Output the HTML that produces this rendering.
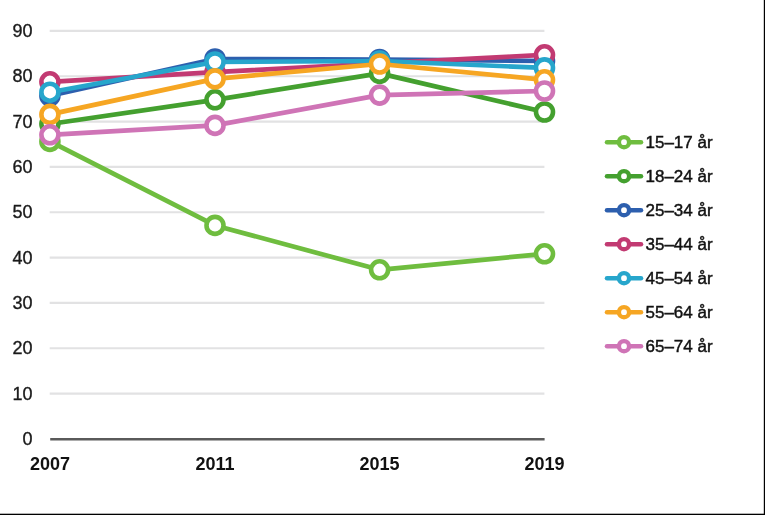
<!DOCTYPE html>
<html><head><meta charset="utf-8"><style>
html,body{margin:0;padding:0;background:#fff;}
body{width:765px;height:515px;overflow:hidden;position:relative;}
svg{display:block;position:absolute;left:0;top:0;}
#c{filter:blur(0.3px);}
.br{position:absolute;background:#000;}
text{font-family:"Liberation Sans",sans-serif;}
</style></head><body>
<svg id="c" width="765" height="515" viewBox="0 0 765 515">
<rect x="0" y="0" width="765" height="515" fill="#fff"/>

<line x1="49.7" y1="393.57" x2="544.4" y2="393.57" stroke="#e2e2e3" stroke-width="2.2"/>
<line x1="49.7" y1="348.23" x2="544.4" y2="348.23" stroke="#e2e2e3" stroke-width="2.2"/>
<line x1="49.7" y1="302.90" x2="544.4" y2="302.90" stroke="#e2e2e3" stroke-width="2.2"/>
<line x1="49.7" y1="257.57" x2="544.4" y2="257.57" stroke="#e2e2e3" stroke-width="2.2"/>
<line x1="49.7" y1="212.23" x2="544.4" y2="212.23" stroke="#e2e2e3" stroke-width="2.2"/>
<line x1="49.7" y1="166.90" x2="544.4" y2="166.90" stroke="#e2e2e3" stroke-width="2.2"/>
<line x1="49.7" y1="121.57" x2="544.4" y2="121.57" stroke="#e2e2e3" stroke-width="2.2"/>
<line x1="49.7" y1="76.24" x2="544.4" y2="76.24" stroke="#e2e2e3" stroke-width="2.2"/>
<line x1="49.7" y1="30.90" x2="544.4" y2="30.90" stroke="#e2e2e3" stroke-width="2.2"/>
<line x1="50.2" y1="439.2" x2="544.6" y2="439.2" stroke="#5a5a5a" stroke-width="2.6"/>
<text x="32.6" y="445.10" font-size="18" text-anchor="end" fill="#1a1a1a" stroke="#1a1a1a" stroke-width="0.35">0</text>
<text x="32.6" y="399.77" font-size="18" text-anchor="end" fill="#1a1a1a" stroke="#1a1a1a" stroke-width="0.35">10</text>
<text x="32.6" y="354.43" font-size="18" text-anchor="end" fill="#1a1a1a" stroke="#1a1a1a" stroke-width="0.35">20</text>
<text x="32.6" y="309.10" font-size="18" text-anchor="end" fill="#1a1a1a" stroke="#1a1a1a" stroke-width="0.35">30</text>
<text x="32.6" y="263.77" font-size="18" text-anchor="end" fill="#1a1a1a" stroke="#1a1a1a" stroke-width="0.35">40</text>
<text x="32.6" y="218.43" font-size="18" text-anchor="end" fill="#1a1a1a" stroke="#1a1a1a" stroke-width="0.35">50</text>
<text x="32.6" y="173.10" font-size="18" text-anchor="end" fill="#1a1a1a" stroke="#1a1a1a" stroke-width="0.35">60</text>
<text x="32.6" y="127.77" font-size="18" text-anchor="end" fill="#1a1a1a" stroke="#1a1a1a" stroke-width="0.35">70</text>
<text x="32.6" y="82.44" font-size="18" text-anchor="end" fill="#1a1a1a" stroke="#1a1a1a" stroke-width="0.35">80</text>
<text x="32.6" y="37.10" font-size="18" text-anchor="end" fill="#1a1a1a" stroke="#1a1a1a" stroke-width="0.35">90</text>
<text x="49.90" y="469.8" font-size="18" font-weight="bold" text-anchor="middle" fill="#111">2007</text>
<text x="215.00" y="469.8" font-size="18" font-weight="bold" text-anchor="middle" fill="#111">2011</text>
<text x="379.60" y="469.8" font-size="18" font-weight="bold" text-anchor="middle" fill="#111">2015</text>
<text x="544.50" y="469.8" font-size="18" font-weight="bold" text-anchor="middle" fill="#111">2019</text>
<polyline points="49.90,141.40 215.00,225.40 379.60,269.80 544.50,253.80" fill="none" stroke="#6fbd3f" stroke-width="4.7" stroke-linejoin="round" stroke-linecap="round"/>
<circle cx="49.90" cy="141.40" r="8.5" fill="#fff" stroke="#6fbd3f" stroke-width="4.6"/>
<circle cx="215.00" cy="225.40" r="8.5" fill="#fff" stroke="#6fbd3f" stroke-width="4.6"/>
<circle cx="379.60" cy="269.80" r="8.5" fill="#fff" stroke="#6fbd3f" stroke-width="4.6"/>
<circle cx="544.50" cy="253.80" r="8.5" fill="#fff" stroke="#6fbd3f" stroke-width="4.6"/>
<polyline points="49.90,124.00 215.00,99.80 379.60,73.40 544.50,112.00" fill="none" stroke="#44a02f" stroke-width="4.7" stroke-linejoin="round" stroke-linecap="round"/>
<circle cx="49.90" cy="124.00" r="8.5" fill="#fff" stroke="#44a02f" stroke-width="4.6"/>
<circle cx="215.00" cy="99.80" r="8.5" fill="#fff" stroke="#44a02f" stroke-width="4.6"/>
<circle cx="379.60" cy="73.40" r="8.5" fill="#fff" stroke="#44a02f" stroke-width="4.6"/>
<circle cx="544.50" cy="112.00" r="8.5" fill="#fff" stroke="#44a02f" stroke-width="4.6"/>
<polyline points="49.90,95.80 215.00,59.00 379.60,59.50 544.50,61.00" fill="none" stroke="#2d5fae" stroke-width="4.7" stroke-linejoin="round" stroke-linecap="round"/>
<circle cx="49.90" cy="95.80" r="8.5" fill="#fff" stroke="#2d5fae" stroke-width="4.6"/>
<circle cx="215.00" cy="59.00" r="8.5" fill="#fff" stroke="#2d5fae" stroke-width="4.6"/>
<circle cx="379.60" cy="59.50" r="8.5" fill="#fff" stroke="#2d5fae" stroke-width="4.6"/>
<circle cx="544.50" cy="61.00" r="8.5" fill="#fff" stroke="#2d5fae" stroke-width="4.6"/>
<polyline points="49.90,81.80 215.00,72.20 379.60,63.30 544.50,54.80" fill="none" stroke="#c23a72" stroke-width="4.7" stroke-linejoin="round" stroke-linecap="round"/>
<circle cx="49.90" cy="81.80" r="8.5" fill="#fff" stroke="#c23a72" stroke-width="4.6"/>
<circle cx="215.00" cy="72.20" r="8.5" fill="#fff" stroke="#c23a72" stroke-width="4.6"/>
<circle cx="379.60" cy="63.30" r="8.5" fill="#fff" stroke="#c23a72" stroke-width="4.6"/>
<circle cx="544.50" cy="54.80" r="8.5" fill="#fff" stroke="#c23a72" stroke-width="4.6"/>
<polyline points="49.90,92.20 215.00,62.00 379.60,61.00 544.50,67.90" fill="none" stroke="#27a6cc" stroke-width="4.7" stroke-linejoin="round" stroke-linecap="round"/>
<circle cx="49.90" cy="92.20" r="8.5" fill="#fff" stroke="#27a6cc" stroke-width="4.6"/>
<circle cx="215.00" cy="62.00" r="8.5" fill="#fff" stroke="#27a6cc" stroke-width="4.6"/>
<circle cx="379.60" cy="61.00" r="8.5" fill="#fff" stroke="#27a6cc" stroke-width="4.6"/>
<circle cx="544.50" cy="67.90" r="8.5" fill="#fff" stroke="#27a6cc" stroke-width="4.6"/>
<polyline points="49.90,114.40 215.00,78.90 379.60,64.00 544.50,79.80" fill="none" stroke="#f6a623" stroke-width="4.7" stroke-linejoin="round" stroke-linecap="round"/>
<circle cx="49.90" cy="114.40" r="8.5" fill="#fff" stroke="#f6a623" stroke-width="4.6"/>
<circle cx="215.00" cy="78.90" r="8.5" fill="#fff" stroke="#f6a623" stroke-width="4.6"/>
<circle cx="379.60" cy="64.00" r="8.5" fill="#fff" stroke="#f6a623" stroke-width="4.6"/>
<circle cx="544.50" cy="79.80" r="8.5" fill="#fff" stroke="#f6a623" stroke-width="4.6"/>
<polyline points="49.90,134.80 215.00,125.40 379.60,95.10 544.50,91.00" fill="none" stroke="#cf74b6" stroke-width="4.7" stroke-linejoin="round" stroke-linecap="round"/>
<circle cx="49.90" cy="134.80" r="8.5" fill="#fff" stroke="#cf74b6" stroke-width="4.6"/>
<circle cx="215.00" cy="125.40" r="8.5" fill="#fff" stroke="#cf74b6" stroke-width="4.6"/>
<circle cx="379.60" cy="95.10" r="8.5" fill="#fff" stroke="#cf74b6" stroke-width="4.6"/>
<circle cx="544.50" cy="91.00" r="8.5" fill="#fff" stroke="#cf74b6" stroke-width="4.6"/>
<line x1="607" y1="142.20" x2="641" y2="142.20" stroke="#6fbd3f" stroke-width="4.5" stroke-linecap="round"/>
<circle cx="624" cy="142.20" r="5.1" fill="#fff" stroke="#6fbd3f" stroke-width="4.4"/>
<text x="645.5" y="147.80" font-size="17" fill="#111" stroke="#111" stroke-width="0.45">15–17 år</text>
<line x1="607" y1="176.20" x2="641" y2="176.20" stroke="#44a02f" stroke-width="4.5" stroke-linecap="round"/>
<circle cx="624" cy="176.20" r="5.1" fill="#fff" stroke="#44a02f" stroke-width="4.4"/>
<text x="645.5" y="181.80" font-size="17" fill="#111" stroke="#111" stroke-width="0.45">18–24 år</text>
<line x1="607" y1="210.20" x2="641" y2="210.20" stroke="#2d5fae" stroke-width="4.5" stroke-linecap="round"/>
<circle cx="624" cy="210.20" r="5.1" fill="#fff" stroke="#2d5fae" stroke-width="4.4"/>
<text x="645.5" y="215.80" font-size="17" fill="#111" stroke="#111" stroke-width="0.45">25–34 år</text>
<line x1="607" y1="244.20" x2="641" y2="244.20" stroke="#c23a72" stroke-width="4.5" stroke-linecap="round"/>
<circle cx="624" cy="244.20" r="5.1" fill="#fff" stroke="#c23a72" stroke-width="4.4"/>
<text x="645.5" y="249.80" font-size="17" fill="#111" stroke="#111" stroke-width="0.45">35–44 år</text>
<line x1="607" y1="278.20" x2="641" y2="278.20" stroke="#27a6cc" stroke-width="4.5" stroke-linecap="round"/>
<circle cx="624" cy="278.20" r="5.1" fill="#fff" stroke="#27a6cc" stroke-width="4.4"/>
<text x="645.5" y="283.80" font-size="17" fill="#111" stroke="#111" stroke-width="0.45">45–54 år</text>
<line x1="607" y1="312.20" x2="641" y2="312.20" stroke="#f6a623" stroke-width="4.5" stroke-linecap="round"/>
<circle cx="624" cy="312.20" r="5.1" fill="#fff" stroke="#f6a623" stroke-width="4.4"/>
<text x="645.5" y="317.80" font-size="17" fill="#111" stroke="#111" stroke-width="0.45">55–64 år</text>
<line x1="607" y1="346.20" x2="641" y2="346.20" stroke="#cf74b6" stroke-width="4.5" stroke-linecap="round"/>
<circle cx="624" cy="346.20" r="5.1" fill="#fff" stroke="#cf74b6" stroke-width="4.4"/>
<text x="645.5" y="351.80" font-size="17" fill="#111" stroke="#111" stroke-width="0.45">65–74 år</text>
</svg>
<svg width="765" height="515" viewBox="0 0 765 515"><rect x="763.8" y="0" width="1.2" height="515" fill="#000"/><rect x="0" y="513.7" width="765" height="1.3" fill="#000"/></svg>
</body></html>
